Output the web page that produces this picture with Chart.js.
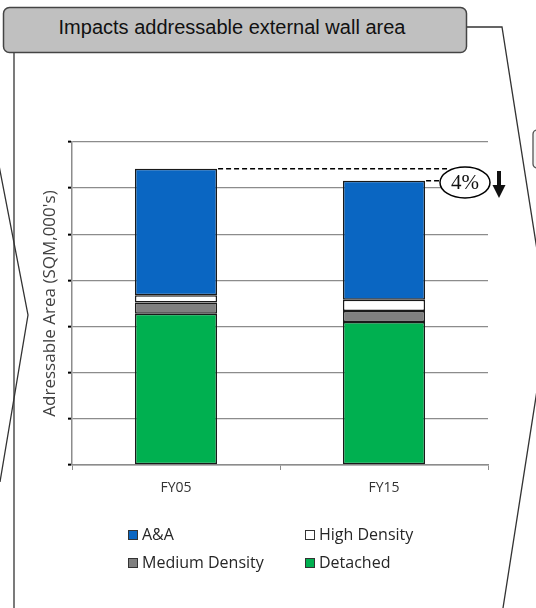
<!DOCTYPE html>
<html>
<head>
<meta charset="utf-8">
<script src="https://cdn.jsdelivr.net/npm/chart.js@4/dist/chart.umd.min.js"></script>
<style>
  html, body { margin: 0; padding: 0; background: #fff; }
  #wrap { position: relative; width: 536px; height: 608px; overflow: hidden; }
  #frame, #chart { position: absolute; left: 0; top: 0; }
</style>
</head>
<body>
<div id="wrap">
  <svg id="frame" width="536" height="608" viewBox="0 0 536 608">
    <!-- callout outline behind the chart -->
    <g fill="none" stroke="#333" stroke-width="1.3">
      <polyline points="14,53 14,608" />
      <polyline points="-4,150 28,315 0,482" />
      <polyline points="466,27 502,27 548,320 503,608" />
    </g>
    <rect x="533" y="130" width="30" height="38" rx="4" fill="#f2f2f2" stroke="#555" stroke-width="1.3" />
    <rect x="3.5" y="7.5" width="463" height="45" rx="6" fill="#c0c0c0" stroke="#444" stroke-width="1.5" />
    <text x="232" y="34" text-anchor="middle" font-family="Liberation Sans, Arial, sans-serif" font-size="20" fill="#111">Impacts addressable external wall area</text>
  </svg>
  <canvas id="chart" width="536" height="608"></canvas>
</div>
<script>
const categories = ['FY05', 'FY15'];
const detached = [164, 155];
const mediumDensity = [12, 12];
const highDensity = [8, 12];
const aAndA = [137, 129];

const yMax = 350;
const yStep = 50;

Chart.defaults.font.family = "'Open Sans', sans-serif";

const ctx = document.getElementById('chart').getContext('2d');

// Legend laid out as a 2x2 grid under the axis (top series first)
const gridLegend = {
  id: 'gridLegend',
  afterDraw(chart) {
    const c = chart.ctx;
    const items = chart.data.datasets.slice().reverse();
    const colX = [128, 305];
    const rowY = [535, 563];
    c.save();
    c.font = "16px 'Open Sans', sans-serif";
    c.textBaseline = 'middle';
    items.forEach((ds, i) => {
      const x = colX[i % 2];
      const y = rowY[Math.floor(i / 2)];
      c.fillStyle = ds.backgroundColor;
      c.fillRect(x, y - 5, 10, 10);
      c.strokeStyle = '#333';
      c.lineWidth = 1;
      c.strokeRect(x + 0.5, y - 4.5, 9, 9);
      c.fillStyle = '#262626';
      c.fillText(ds.label, x + 14, y);
    });
    c.restore();
  }
};

// Dashed total lines with the percentage change callout
const changeCallout = {
  id: 'changeCallout',
  afterDatasetsDraw(chart) {
    const c = chart.ctx;
    const yScale = chart.scales.y;
    const totals = categories.map((_, i) =>
      chart.data.datasets.reduce((s, ds) => s + ds.data[i], 0));
    const topMeta = chart.getDatasetMeta(chart.data.datasets.length - 1);
    const bar0 = topMeta.data[0];
    const bar1 = topMeta.data[1];
    const y0 = yScale.getPixelForValue(totals[0]);
    const y1 = yScale.getPixelForValue(totals[1]);
    const change = Math.round((1 - totals[1] / totals[0]) * 100);

    const ex = 465, ey = 182.5, rx = 25, ry = 15.5;

    c.save();
    c.strokeStyle = '#000';
    c.lineWidth = 1.4;
    c.setLineDash([5, 3]);
    c.beginPath();
    c.moveTo(bar0.x + bar0.width / 2 + 1, y0);
    c.lineTo(ex - 18, y0);
    c.moveTo(bar1.x + bar1.width / 2 + 1, y1);
    c.lineTo(ex - rx, y1);
    c.stroke();
    c.setLineDash([]);

    c.beginPath();
    c.ellipse(ex, ey, rx, ry, 0, 0, Math.PI * 2);
    c.fillStyle = '#fff';
    c.fill();
    c.lineWidth = 1.5;
    c.stroke();

    c.fillStyle = '#111';
    c.font = "21px 'Liberation Serif', serif";
    c.textAlign = 'center';
    c.textBaseline = 'middle';
    c.fillText(change + '%', ex, ey + 1);

    // down arrow
    c.fillRect(497, 171, 4, 17);
    c.beginPath();
    c.moveTo(492.5, 185);
    c.lineTo(505.5, 185);
    c.lineTo(499, 198);
    c.closePath();
    c.fill();
    c.restore();
  }
};

const barStyle = {
  borderColor: '#1a1a1a',
  borderWidth: 1.5,
  borderSkipped: false,
  barPercentage: 0.395,
  categoryPercentage: 1
};

const chart = new Chart(ctx, {
  type: 'bar',
  data: {
    labels: categories,
    datasets: [
      { label: 'Detached', data: detached, backgroundColor: '#00b050', ...barStyle },
      { label: 'Medium Density', data: mediumDensity, backgroundColor: '#808080', ...barStyle },
      { label: 'High Density', data: highDensity, backgroundColor: '#ffffff', ...barStyle },
      { label: 'A&A', data: aAndA, backgroundColor: '#0a66c2', ...barStyle }
    ]
  },
  options: {
    responsive: false,
    animation: false,
    devicePixelRatio: 1,
    layout: { padding: { left: 30, right: 48, top: 142, bottom: 0 } },
    plugins: {
      legend: { display: false },
      tooltip: { enabled: false }
    },
    scales: {
      x: {
        stacked: true,
        afterFit(scale) { scale.height = 143; },
        grid: {
          offset: true,
          drawOnChartArea: false,
          drawTicks: true,
          tickLength: 5,
          color: '#8c8c8c'
        },
        border: { color: '#8c8c8c', width: 1.5 },
        ticks: {
          padding: 10,
          color: '#333',
          font: { size: 14 }
        }
      },
      y: {
        stacked: true,
        min: 0,
        max: yMax,
        afterFit(scale) { scale.width = 42; },
        grid: {
          color: '#8c8c8c',
          lineWidth: 1.3,
          drawTicks: true,
          tickLength: 4,
          tickColor: '#000',
          tickWidth: 2
        },
        border: { color: '#8c8c8c', width: 1.5 },
        ticks: { stepSize: yStep, display: false },
        title: {
          display: true,
          text: "Adressable Area (SQM,000's)",
          color: '#404040',
          font: { size: 17 },
          padding: { top: 10, bottom: 0 }
        }
      }
    }
  },
  plugins: [changeCallout, gridLegend]
});
</script>
</body>
</html>
